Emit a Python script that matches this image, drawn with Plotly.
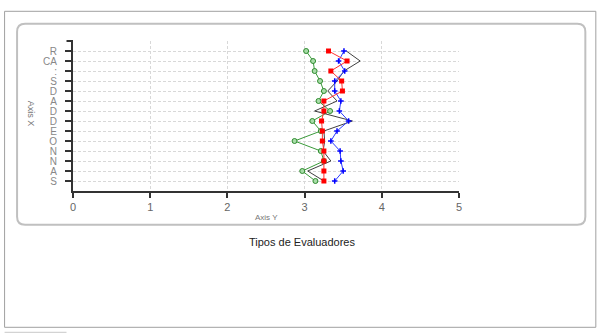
import plotly.graph_objects as go

categories = ["R", "CA", ":", "S", "D", "A", "D", "D", "E", "O", "N", "N", "A", "S"]
green_vals = [3.02, 3.11, 3.13, 3.20, 3.25, 3.18, 3.33, 3.10, 3.21, 2.87, 3.21, 3.25, 2.97, 3.14]
black_vals = [3.54, 3.72, 3.51, 3.42, 3.30, 3.42, 3.13, 3.62, 3.25, 3.26, 3.24, 3.34, 3.04, 3.25]
blue_vals = [3.51, 3.44, 3.52, 3.39, 3.39, 3.47, 3.45, 3.57, 3.42, 3.34, 3.46, 3.47, 3.50, 3.39]
red_vals = [3.31, 3.55, 3.34, 3.48, 3.49, 3.25, 3.25, 3.22, 3.23, 3.23, 3.25, 3.25, 3.25, 3.25]
x_ticks = [0, 1, 2, 3, 4, 5]

idx = list(range(len(categories)))

fig = go.Figure()
fig.add_trace(go.Scatter(x=green_vals, y=idx, mode="lines+markers",
                         line=dict(color="#3a9a3a", width=1),
                         marker=dict(symbol="circle", size=5, color="#a8dca8",
                                     line=dict(color="#2e8b2e", width=1))))
fig.add_trace(go.Scatter(x=black_vals, y=idx, mode="lines",
                         line=dict(color="#404040", width=1)))
fig.add_trace(go.Scatter(x=blue_vals, y=idx, mode="lines+markers",
                         line=dict(color="#2a3aff", width=1),
                         marker=dict(symbol="cross-thin", size=4,
                                     line=dict(color="#0000ff", width=1.5))))
fig.add_trace(go.Scatter(x=red_vals, y=idx, mode="lines+markers",
                         line=dict(color="#ff3030", width=1),
                         marker=dict(symbol="square", size=5, color="#ff0000")))

fig.update_layout(
    width=600, height=333,
    margin=dict(l=72.5, r=141, t=40.7, b=142.3),
    paper_bgcolor="white", plot_bgcolor="white",
    showlegend=False,
    font=dict(family="Liberation Sans, Arial, sans-serif", size=11, color="#444"),
    xaxis=dict(range=[0, 5], tickvals=x_ticks, ticktext=[str(t) for t in x_ticks],
               showline=True, linecolor="#333", linewidth=2,
               ticks="outside", ticklen=5, tickwidth=2, tickcolor="#333",
               showgrid=True, gridcolor="#d8d8d8", griddash="3px,2px", gridwidth=1,
               zeroline=False, tickfont=dict(size=11, color="#666")),
    yaxis=dict(range=[14, -1], tickvals=idx, ticktext=categories,
               showline=True, linecolor="#333", linewidth=2,
               ticks="outside", ticklen=6, tickwidth=2, tickcolor="#333",
               showgrid=True, gridcolor="#d8d8d8", griddash="3px,2px", gridwidth=1,
               zeroline=False, ticklabelstandoff=6,
               tickfont=dict(size=10, color="#888")),
)


def px(xv):
    return (xv - 72.5) / 386.5


def py(yv):
    return (190.7 - yv) / 150


# outer frame
fig.add_shape(type="rect", xref="paper", yref="paper",
              x0=px(4), x1=px(596), y0=py(327), y1=py(11),
              line=dict(color="#a0a0a0", width=1), layer="below")
# inner rounded panel
r = 8
x0p, x1p, y0p, y1p = 16.5, 585.5, 23.5, 224.5
pts = [("M", x0p + r, y0p), ("L", x1p - r, y0p), ("Q", x1p, y0p), ("", x1p, y0p + r),
       ("L", x1p, y1p - r), ("Q", x1p, y1p), ("", x1p - r, y1p), ("L", x0p + r, y1p),
       ("Q", x0p, y1p), ("", x0p, y1p - r), ("L", x0p, y0p + r), ("Q", x0p, y0p),
       ("", x0p + r, y0p)]
path = " ".join(f"{c} {px(a):.5f},{py(b):.5f}".strip() for c, a, b in pts) + " Z"
fig.add_shape(type="path", xref="paper", yref="paper", path=path,
              line=dict(color="#c0c0c0", width=2), layer="below")
# top tick cap of the y axis
fig.add_shape(type="line", xref="paper", yref="paper",
              x0=px(66), x1=px(72.5), y0=1, y1=1,
              line=dict(color="#333", width=2))
# bottom stub line
fig.add_shape(type="line", xref="paper", yref="paper",
              x0=px(4), x1=px(66), y0=py(332), y1=py(332),
              line=dict(color="#c8c8c8", width=1))

fig.add_annotation(text="Axis Y", xref="paper", yref="paper",
                   x=0.5, y=py(217), xanchor="center", yanchor="middle",
                   showarrow=False, font=dict(size=8, color="#777"))
fig.add_annotation(text="Axis X", xref="paper", yref="paper",
                   x=px(30), y=py(113), xanchor="center", yanchor="middle",
                   showarrow=False, textangle=90,
                   font=dict(size=9, color="#777"))
fig.add_annotation(text="Tipos de Evaluadores", xref="paper", yref="paper",
                   x=px(302), y=py(242), xanchor="center", yanchor="middle",
                   showarrow=False, font=dict(size=11, color="#222"))

fig.write_html("out.html")
